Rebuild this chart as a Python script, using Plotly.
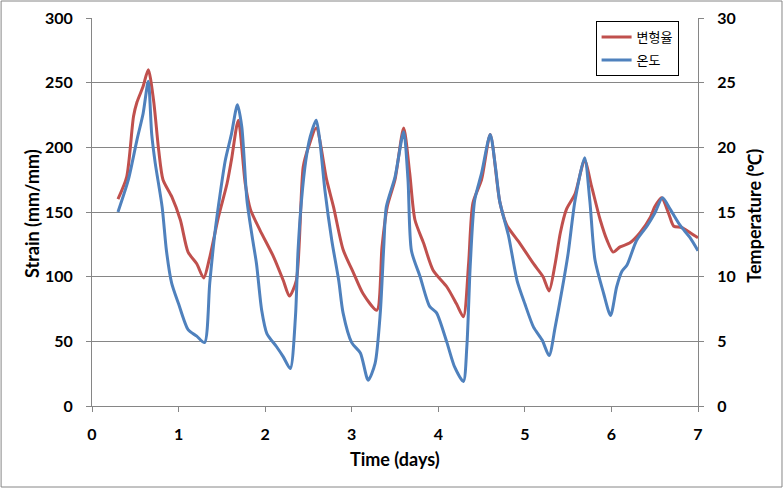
import plotly.graph_objects as go

# Strain (left axis, mm/mm)
strain_days = [0.30, 0.40, 0.48, 0.52, 0.59, 0.65, 0.71, 0.77, 0.82, 0.92, 1.02, 1.11, 1.21, 1.29,
               1.36, 1.46, 1.56, 1.61, 1.69, 1.77, 1.83, 1.94, 2.10, 2.21, 2.28, 2.36, 2.44, 2.50,
               2.59, 2.71, 2.79, 2.90, 3.02, 3.13, 3.29, 3.35, 3.41, 3.50, 3.60, 3.67, 3.73, 3.83,
               3.94, 4.10, 4.21, 4.29, 4.35, 4.40, 4.50, 4.60, 4.71, 4.79, 4.94, 5.10, 5.21, 5.28,
               5.35, 5.41, 5.48, 5.58, 5.69, 5.77, 5.87, 5.95, 6.02, 6.10, 6.21, 6.33, 6.45, 6.50,
               6.58, 6.66, 6.72, 6.81, 6.91, 7.00]
strain = [160, 177, 224, 235, 247, 260, 237, 198, 175, 162, 144, 119, 110, 99,
          115, 146, 172, 190, 221, 172, 152, 136, 115, 97, 85, 97, 185, 200,
          215, 175, 154, 121, 103, 87, 74, 123, 154, 175, 215, 180, 144, 126,
          105, 92, 79, 69, 110, 157, 175, 210, 158, 140, 126, 110, 100, 89,
          110, 134, 152, 164, 190, 170, 144, 128, 119, 123, 126, 134, 146, 154,
          161, 149, 139, 138, 134, 130]

# Temperature (right axis, deg C)
temp_days = [0.30, 0.42, 0.52, 0.59, 0.65, 0.69, 0.73, 0.81, 0.86, 0.92, 1.00, 1.11, 1.21, 1.30,
             1.36, 1.42, 1.48, 1.54, 1.61, 1.68, 1.73, 1.79, 1.85, 1.90, 1.96, 2.02, 2.13, 2.21,
             2.29, 2.35, 2.38, 2.42, 2.47, 2.52, 2.59, 2.63, 2.69, 2.77, 2.85, 2.90, 3.00, 3.10,
             3.19, 3.27, 3.33, 3.37, 3.40, 3.50, 3.60, 3.65, 3.69, 3.79, 3.90, 3.98, 4.10, 4.19,
             4.29, 4.33, 4.37, 4.42, 4.50, 4.60, 4.66, 4.71, 4.81, 4.91, 5.00, 5.10, 5.20, 5.28,
             5.35, 5.43, 5.50, 5.58, 5.69, 5.75, 5.81, 5.91, 5.99, 6.06, 6.12, 6.18, 6.29, 6.41,
             6.50, 6.59, 6.68, 6.79, 6.91, 7.00]
temp = [15.0, 17.5, 20.6, 22.6, 25.1, 21.0, 18.8, 15.4, 12.0, 9.5, 7.9, 5.9, 5.4, 4.9,
        9.5, 13.4, 16.4, 19.0, 21.0, 23.3, 21.6, 15.9, 13.1, 11.0, 7.4, 5.6, 4.6, 3.8,
        2.9, 6.9, 12.0, 15.9, 19.0, 20.8, 22.1, 20.6, 16.7, 12.8, 9.7, 7.2, 4.9, 4.1,
        2.0, 3.3, 7.2, 12.3, 15.4, 17.7, 21.2, 17.5, 12.0, 10.0, 7.7, 7.2, 4.9, 3.0,
        1.9, 4.6, 11.0, 15.9, 18.0, 21.0, 18.5, 15.8, 13.2, 9.7, 7.9, 6.1, 5.1, 3.9,
        6.1, 9.0, 11.8, 15.9, 19.2, 15.9, 11.3, 8.7, 7.0, 9.2, 10.4, 10.9, 12.8, 13.9,
        14.9, 16.1, 15.2, 14.0, 13.0, 12.0]

font_main = "Lato"
grid_gray = "#868686"

fig = go.Figure()
fig.add_trace(go.Scatter(x=strain_days, y=strain, name="변형율", mode="lines", legendgroup="a",
                         line=dict(color="#C0504D", width=3, shape="spline", smoothing=0.7)))
fig.add_trace(go.Scatter(x=temp_days, y=temp, name="온도", mode="lines", yaxis="y2", legendgroup="b",
                         line=dict(color="#4F81BD", width=3, shape="spline", smoothing=0.7)))

tick_font = dict(family=font_main, size=16, color="black", weight="bold")
title_font = dict(family=font_main, size=18, color="black", weight="bold")

axis_common = dict(zeroline=False, showline=True, linecolor=grid_gray, linewidth=1,
                   ticks="outside", ticklen=5, tickcolor=grid_gray,
                   tickfont=tick_font, automargin=False)

fig.update_layout(
    width=784, height=489,
    margin=dict(l=92, r=86, t=18, b=83),
    plot_bgcolor="white", paper_bgcolor="white",
    xaxis=dict(range=[0, 7], dtick=1, showgrid=False, ticklabelstandoff=9, **axis_common),
    yaxis=dict(range=[0, 300], dtick=50, showgrid=True, gridcolor=grid_gray, gridwidth=1,
               ticklabelstandoff=10, **axis_common),
    yaxis2=dict(range=[0, 30], dtick=5, overlaying="y", side="right", showgrid=False,
                ticklabelstandoff=10, **axis_common),
    legend=dict(x=0.831, y=0.992, xanchor="left", yanchor="top",
                bgcolor="white", bordercolor="black", borderwidth=1,
                font=dict(family="Noto Sans CJK KR", size=13, color="black"),
                itemwidth=30, tracegroupgap=3),
    showlegend=True,
    annotations=[
        dict(text="Time (days)", xref="paper", yref="paper", x=0.5, y=-0.137,
             showarrow=False, font=title_font, xanchor="center", yanchor="middle"),
        dict(text="Strain (mm/mm)", xref="paper", yref="paper", x=-0.099, y=0.495,
             showarrow=False, font=title_font, textangle=-90, xanchor="center", yanchor="middle"),
        dict(text="Temperature (℃)", xref="paper", yref="paper", x=1.092, y=0.49,
             showarrow=False, font=title_font, textangle=-90, xanchor="center", yanchor="middle"),
    ],
    # outer chart frame
    shapes=[dict(type="rect", xref="paper", yref="paper",
                 x0=-0.150, x1=1.1386, y0=-0.2088, y1=1.0438,
                 line=dict(color=grid_gray, width=1), layer="below")],
)

# drop the page's default body margin so the figure sits at the window's corner
fig.write_html("out.html", config={"displayModeBar": False},
               post_script="document.body.style.margin = '0';")
